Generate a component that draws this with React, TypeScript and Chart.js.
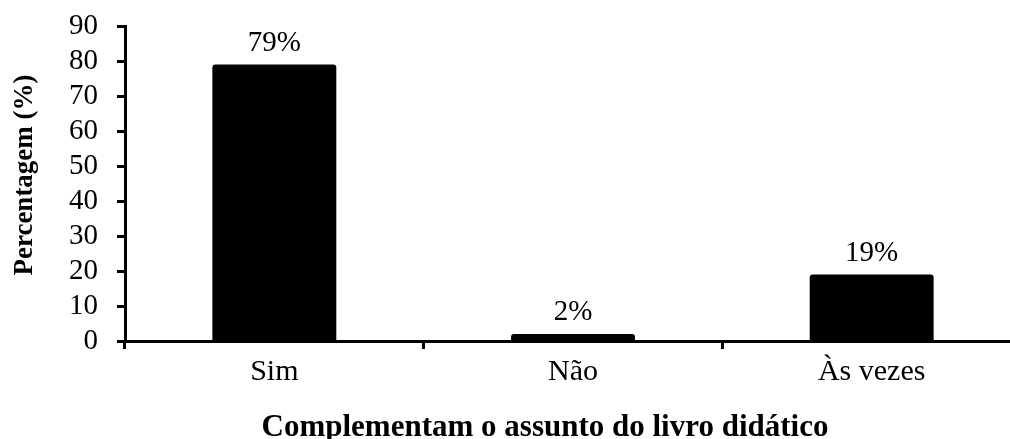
import { useEffect, useRef } from 'react';
import { Chart, registerables } from 'chart.js';

Chart.register(...registerables);

const categories = ['Sim', 'Não', 'Às vezes'];
const percentages = [79, 2, 19];
const valueLabels = ['79%', '2%', '19%'];
const yMin = 0;
const yMax = 90;
const yStep = 10;
const xTitle = 'Complementam o assunto do livro didático';
const yTitle = 'Percentagem (%)';

const FAMILY = '"Liberation Serif", "Times New Roman", serif';

const valueLabelPlugin = {
  id: 'valueLabels',
  afterDatasetsDraw(chart: any) {
    const { ctx } = chart;
    const meta = chart.getDatasetMeta(0);
    ctx.save();
    ctx.fillStyle = '#000';
    ctx.font = `29px ${FAMILY}`;
    ctx.textAlign = 'center';
    ctx.textBaseline = 'alphabetic';
    meta.data.forEach((el: any, i: number) => {
      ctx.fillText(valueLabels[i], el.x, el.y - 14);
    });
    ctx.restore();
  },
};

const axisTitlePlugin = {
  id: 'axisTitles',
  afterDraw(chart: any) {
    const { ctx } = chart;
    ctx.save();
    ctx.fillStyle = '#000';
    ctx.font = `bold 31px ${FAMILY}`;
    ctx.textAlign = 'center';
    ctx.textBaseline = 'alphabetic';
    ctx.fillText(xTitle, 545, 436);
    ctx.translate(32, 175);
    ctx.rotate(-Math.PI / 2);
    ctx.font = `bold 27px ${FAMILY}`;
    ctx.fillText(yTitle, 0, 0);
    ctx.restore();
  },
};

export default function App() {
  const ref = useRef<HTMLCanvasElement>(null);

  useEffect(() => {
    if (!ref.current) return;
    const chart = new Chart(ref.current, {
      type: 'bar',
      data: {
        labels: categories,
        datasets: [
          {
            data: percentages,
            backgroundColor: '#000',
            borderRadius: 3,
            barPercentage: 0.415,
            categoryPercentage: 1,
          },
        ],
      },
      options: {
        animation: false,
        responsive: false,
        devicePixelRatio: 1,
        layout: { padding: { top: 26, right: 4, left: 0, bottom: 0 } },
        plugins: {
          legend: { display: false },
          tooltip: { enabled: false },
        },
        scales: {
          x: {
            grid: {
              drawOnChartArea: false,
              drawTicks: true,
              tickLength: 8,
              tickWidth: 3,
              tickColor: '#000',
              color: '#000',
              offset: true,
            },
            border: { color: '#000', width: 3 },
            ticks: {
              color: '#000',
              font: { family: FAMILY, size: 30 },
              padding: 5,
            },
            afterFit: (s: any) => {
              s.height = 98;
            },
          },
          y: {
            min: yMin,
            max: yMax,
            grid: {
              drawOnChartArea: false,
              drawTicks: true,
              tickLength: 8,
              tickWidth: 3,
              tickColor: '#000',
              color: '#000',
            },
            border: { color: '#000', width: 3 },
            ticks: {
              stepSize: yStep,
              autoSkip: false,
              color: '#000',
              font: { family: FAMILY, size: 29 },
              padding: 19,
            },
            afterFit: (s: any) => {
              s.width = 125;
              s.paddingTop = 0;
              s.paddingBottom = 0;
            },
          },
        },
      },
      plugins: [valueLabelPlugin, axisTitlePlugin],
    });
    return () => chart.destroy();
  }, []);

  return (
    <div
      style={{
        position: 'fixed',
        left: 0,
        top: 0,
        width: 1010,
        height: 439,
        overflow: 'hidden',
        background: '#fff',
      }}
    >
      <canvas
        ref={ref}
        width={1025}
        height={439}
        style={{ display: 'block', width: 1025, height: 439 }}
      />
    </div>
  );
}
